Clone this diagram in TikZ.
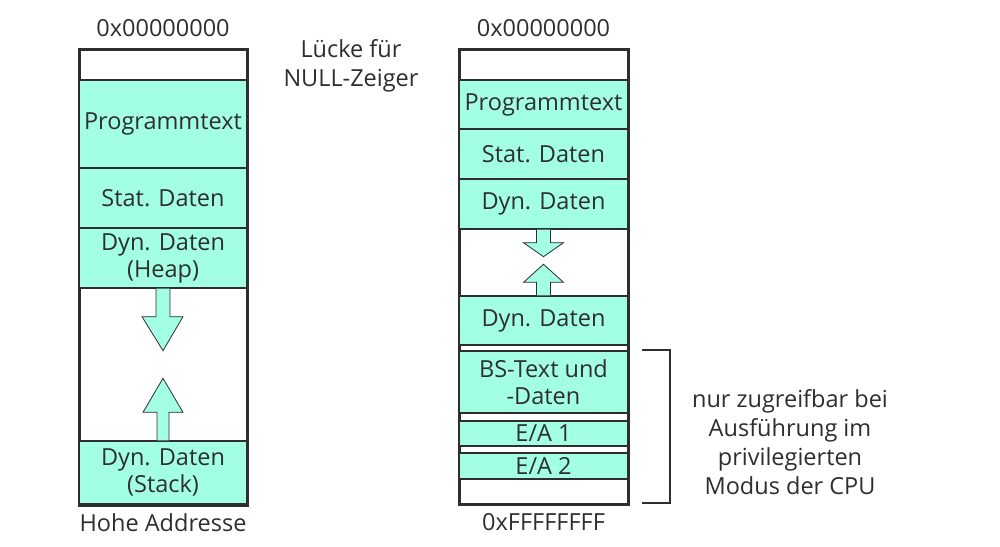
\documentclass[tikz,border=0pt]{standalone}
\usepackage{fontspec}
\setmainfont{Open Sans}
\usetikzlibrary{calc}
\definecolor{seg}{HTML}{A3FFE3}
\definecolor{ink}{HTML}{2E2E2E}
\tikzset{
  outerbox/.style={draw=ink, line width=3pt, fill=white, minimum width=#1, inner sep=0pt},
  segbox/.style={draw=ink, line width=1.4pt, fill=seg, text=ink, inner sep=0pt, align=center, font=\fontsize{23.5}{27}\selectfont},
  lbl/.style={text=ink, align=center, font=\fontsize{23.5}{29}\selectfont},
  blockarrow/.style={draw=ink, line width=0.8pt, fill=seg},
  bracket/.style={draw=ink, line width=2.5pt}
}
\begin{document}
\begin{tikzpicture}[x=1pt,y=-1pt]
\useasboundingbox (0,0) rectangle (1000,546);
% left column
\node[outerbox=168, minimum height=456] (lo) at (163,277) {};
\node[segbox, minimum width=168, minimum height=88] (lpt) at (163,124) {Programmtext};
\node[segbox, minimum width=168, minimum height=60] (lsd) at (163,198) {Stat. Daten};
\node[segbox, minimum width=168, minimum height=60] (lheap) at (163,258) {Dyn. Daten\\(Heap)};
\node[segbox, minimum width=168, minimum height=63] (lstack) at (163,472.5) {Dyn. Daten\\(Stack)};
\draw[blockarrow] ($(lheap.south)+(-7,0)$) -- ++(0,28) -- ++(-14,0) -- ($(lheap.south)+(0,62)$) -- ($(lheap.south)+(20,28)$) -- ++(-13,0) -- ($(lheap.south)+(7,0)$);
\draw[blockarrow] ($(lstack.north)+(-6,0)$) -- ++(0,-28) -- ++(-14,0) -- ($(lstack.north)+(0,-62)$) -- ($(lstack.north)+(20,-28)$) -- ++(-14,0) -- ($(lstack.north)+(6,0)$);
\node[lbl] (ltop) at (163,28) {0x00000000};
\node[lbl] (lbot) at (163,523) {Hohe Addresse};
% middle label
\node[lbl] (gap) at (351,66) {Lücke für\\NULL-Zeiger};
% right column
\node[outerbox=169, minimum height=455] (ro) at (543.5,276.5) {};
\node[segbox, minimum width=169, minimum height=49] (rpt) at (543.5,104.5) {Programmtext};
\node[segbox, minimum width=169, minimum height=50] (rsd) at (543.5,154) {Stat. Daten};
\node[segbox, minimum width=169, minimum height=50] (rdyn) at (543.5,204) {Dyn. Daten};
\node[segbox, minimum width=169, minimum height=49] (rdyn2) at (543.5,320.5) {Dyn. Daten};
\node[segbox, minimum width=169, minimum height=62] (rbs) at (543.5,382) {BS-Text und\\-Daten};
\node[segbox, minimum width=169, minimum height=25] (rea1) at (543.5,433.5) {E/A 1};
\node[segbox, minimum width=169, minimum height=26] (rea2) at (543.5,466) {E/A 2};
\draw[blockarrow] ($(rdyn.south)+(-7,0)$) -- ++(0,13) -- ++(-13,0) -- ($(rdyn.south)+(0,27)$) -- ($(rdyn.south)+(20,13)$) -- ++(-13,0) -- ($(rdyn.south)+(7,0)$);
\draw[blockarrow] ($(rdyn2.north)+(-7,0)$) -- ++(0,-13) -- ++(-13,0) -- ($(rdyn2.north)+(0,-31)$) -- ($(rdyn2.north)+(20,-13)$) -- ++(-13,0) -- ($(rdyn2.north)+(7,0)$);
\node[lbl] (rtop) at (543.5,28) {0x00000000};
\node[lbl] (rbot) at (543.5,522) {0xFFFFFFFF};
% bracket
\coordinate (bt) at (642,350);
\coordinate (bb) at (642,503);
\draw[bracket] (bt) -- ++(28,0) |- (bb);
\node[lbl] (note) at (790,442) {nur zugreifbar bei\\Ausführung im\\privilegierten\\Modus der CPU};
\end{tikzpicture}
\end{document}
